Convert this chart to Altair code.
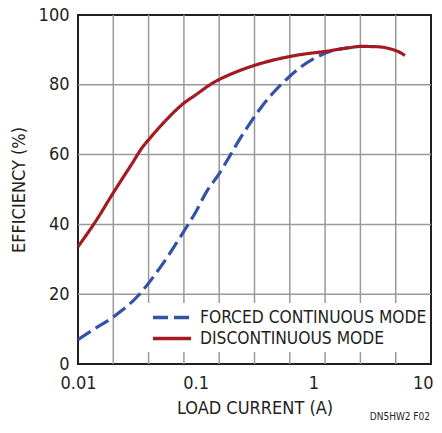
import altair as alt
import pandas as pd

# Forced continuous mode (blue dashed)
fcm_current = [0.01, 0.014, 0.02, 0.0327, 0.05, 0.0817, 0.1, 0.125, 0.157, 0.198,
               0.2326, 0.29, 0.356, 0.45, 0.563, 0.755, 1.08, 1.4, 2.0]
fcm_eff = [7.0, 10.2, 13.5, 19.7, 27.7, 38.7, 43.5, 49.6, 54.3, 60.0,
           64.0, 69.0, 73.3, 77.5, 80.9, 84.7, 88.0, 89.6, 90.7]

# Discontinuous mode (red solid)
dcm_current = [0.01, 0.0142, 0.0199, 0.0285, 0.0358, 0.0411, 0.055, 0.0791, 0.1, 0.1334,
               0.2254, 0.356, 0.732, 1.28, 2.0, 2.53, 3.52, 4.5, 5.5, 6.0]
dcm_eff = [33.6, 41.0, 49.0, 57.2, 62.4, 64.8, 69.6, 74.7, 77.1, 80.1,
           83.8, 86.1, 88.5, 89.6, 90.6, 91.0, 90.9, 90.3, 89.2, 88.4]

series_names = ["FORCED CONTINUOUS MODE", "DISCONTINUOUS MODE"]
series_colors = ["#3553a6", "#a31b22"]
series_dash = [[15, 6], [1, 0]]

x_labels = [0.01, 0.1, 1, 10]
x_grid = [10 ** (-2 + 0.3 * k) for k in range(1, 10)]
y_ticks = [0, 20, 40, 60, 80, 100]
y_grid = [20, 40, 60, 80]
footer = ["DN5HW2 F02"]

FONT = "Liberation Sans Narrow, Arial Narrow, DejaVu Sans Condensed, sans-serif"
TXT = "#231f20"
GRID = "#9a9a9a"

W, H = 353, 349

rows = []
for c, e in zip(fcm_current, fcm_eff):
    rows.append({"current": c, "eff": e, "series": series_names[0], "order": 0})
for c, e in zip(dcm_current, dcm_eff):
    rows.append({"current": c, "eff": e, "series": series_names[1], "order": 1})
df = pd.DataFrame(rows)

xscale = alt.Scale(type="log", domain=[0.01, 10], nice=False)
yscale = alt.Scale(domain=[0, 100], nice=False)

X_AXIS = alt.Axis(values=x_labels, grid=False, ticks=False, domain=False,
                  labelExpr="datum.value >= 1 ? format(datum.value, 'd') : format(datum.value, '.2~f')",
                  title="LOAD CURRENT (A)", labelFont=FONT, labelFontSize=18,
                  labelColor=TXT, labelPadding=10, labelFlush=False,
                  labelAlign={"condition": {"test": "datum.value >= 10", "value": "right"}, "value": "center"},
                  labelOffset={"condition": {"test": "datum.value >= 10", "value": 2}, "value": 0},
                  titleFont=FONT, titleFontSize=18, titleFontWeight="normal",
                  titleColor=TXT, titlePadding=7)
Y_AXIS = alt.Axis(values=y_ticks, grid=False, ticks=False, domain=False,
                  title="EFFICIENCY (%)", labelFont=FONT, labelFontSize=18,
                  labelColor=TXT, labelPadding=9,
                  titleFont=FONT, titleFontSize=18, titleFontWeight="normal",
                  titleColor=TXT, titlePadding=10)

vgrid = alt.Chart(pd.DataFrame({"g": x_grid})).mark_rule(color=GRID, strokeWidth=1.5).encode(
    x=alt.X("g:Q", scale=xscale, axis=X_AXIS, title="LOAD CURRENT (A)")
)
hgrid = alt.Chart(pd.DataFrame({"g": y_grid})).mark_rule(color=GRID, strokeWidth=1.5).encode(
    y=alt.Y("g:Q", scale=yscale, axis=Y_AXIS, title="EFFICIENCY (%)")
)

lines = alt.Chart(df).mark_line(strokeWidth=3.2, interpolate="monotone").encode(
    x=alt.X("current:Q", scale=xscale, axis=X_AXIS, title="LOAD CURRENT (A)"),
    y=alt.Y("eff:Q", scale=yscale, axis=Y_AXIS, title="EFFICIENCY (%)"),
    color=alt.Color("series:N", scale=alt.Scale(domain=series_names, range=series_colors),
                    legend=None),
    strokeDash=alt.StrokeDash("series:N", scale=alt.Scale(domain=series_names, range=series_dash),
                              legend=None),
    order="order:Q",
)

# Manual legend (white box, two symbols, two labels)
leg_box = alt.Chart(pd.DataFrame({"a": [0]})).mark_rect(color="white").encode(
    x=alt.value(67), x2=alt.value(352), y=alt.value(288), y2=alt.value(337)
)
leg_sym_fcm = alt.Chart(pd.DataFrame({"a": [0]})).mark_rule(
    color=series_colors[0], strokeWidth=3.5, strokeDash=series_dash[0]
).encode(x=alt.value(75), x2=alt.value(113), y=alt.value(302.5))
leg_sym_dcm = alt.Chart(pd.DataFrame({"a": [0]})).mark_rule(
    color=series_colors[1], strokeWidth=3.5
).encode(x=alt.value(75), x2=alt.value(113), y=alt.value(323.5))
leg_txt_fcm = alt.Chart(pd.DataFrame({"t": [series_names[0]]})).mark_text(
    align="left", baseline="middle", font=FONT, fontSize=17.3, color=TXT
).encode(x=alt.value(122), y=alt.value(303), text="t:N")
leg_txt_dcm = alt.Chart(pd.DataFrame({"t": [series_names[1]]})).mark_text(
    align="left", baseline="middle", font=FONT, fontSize=17.3, color=TXT
).encode(x=alt.value(122), y=alt.value(324), text="t:N")

foot = alt.Chart(pd.DataFrame({"t": footer})).mark_text(
    align="right", baseline="alphabetic", fontSize=10, font=FONT, color=TXT
).encode(x=alt.value(352), y=alt.value(405), text="t:N")

chart = alt.layer(
    vgrid, hgrid, lines, leg_box, leg_sym_fcm, leg_sym_dcm, leg_txt_fcm, leg_txt_dcm, foot
).properties(
    width=W, height=H,
    autosize=alt.AutoSizeParams(type="none"),
    padding={"left": 70, "top": 7, "right": 3, "bottom": 57},
).configure(background="white").configure_view(stroke=TXT, strokeWidth=2)

chart.save("out.html", embed_options={"renderer": "svg", "actions": False})
